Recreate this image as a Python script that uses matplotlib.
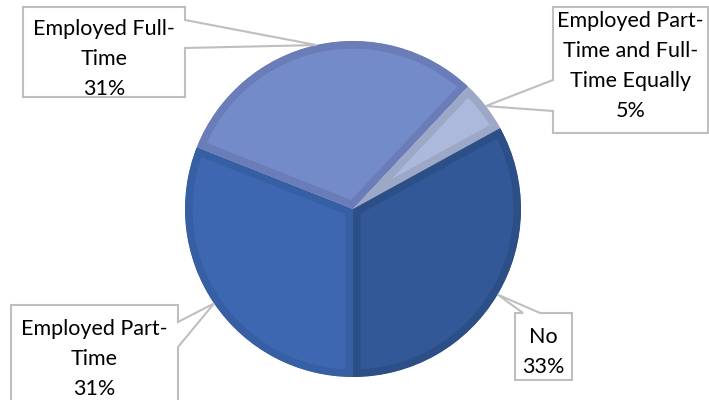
import numpy as np
import matplotlib
matplotlib.use("Agg")
import matplotlib.pyplot as plt
from matplotlib.patches import Polygon

# slices, clockwise from the bottom of the pie
labels = ["Employed Part-\nTime", "Employed Full-\nTime",
          "Employed Part-\nTime and Full-\nTime Equally", "No"]
shares = [31, 31, 5, 33]

fills = ["#3D68B1", "#748BC9", "#ADB9DC", "#335897"]
edges = ["#365FA4", "#6A7DB8", "#9DA7C6", "#2D4F88"]

W, H = 709, 400
fig = plt.figure(figsize=(W / 100, H / 100), dpi=100)
ax = fig.add_axes([0, 0, 1, 1])

cx, cy, R = 353, H - 209, 168

wedges, _ = ax.pie(shares, startangle=270, counterclock=False,
                   center=(cx, cy), radius=R, colors=fills,
                   wedgeprops=dict(linewidth=11))
for w, ec in zip(wedges, edges):
    w.set_edgecolor(ec)
    w.set_joinstyle("round")
    w.set_clip_on(True)
    w.set_clip_path(w)

ax.set_xlim(0, W)
ax.set_ylim(0, H)
ax.set_aspect("equal")
ax.axis("off")


def tip_of(w):
    a = np.deg2rad((w.theta1 + w.theta2) / 2)
    return cx + R * np.cos(a), cy + R * np.sin(a)


def callout(box, side, notch, tip, text, ty):
    # box in pixel coords (left, top, right, bottom), y measured from top
    l, t, r, b = box
    tx, tyy = tip
    if side == "right":
        pts = [(l, t), (r, t), (r, notch[0]), None, (r, notch[1]), (r, b), (l, b)]
    elif side == "left":
        pts = [(l, t), (r, t), (r, b), (l, b), (l, notch[1]), None, (l, notch[0])]
    else:  # top
        pts = [(l, t), (notch[0], t), None, (notch[1], t), (r, t), (r, b), (l, b)]
    verts = []
    for p in pts:
        if p is None:
            verts.append((tx, tyy))
        else:
            verts.append((p[0], H - p[1]))
    ax.add_patch(Polygon(verts, closed=True, facecolor="white",
                         edgecolor="#BFBFBF", linewidth=1.5, zorder=5,
                         clip_on=False))
    ax.text((l + r) / 2, H - ty, text, ha="center", va="center",
            fontsize=15.5, family="Lato", linespacing=1.62, color="black",
            zorder=6)


pct = [f"{s}%" for s in shares]

callout((11, 305, 178, 410), "right", (322, 347), tip_of(wedges[0]),
        labels[0] + "\n" + pct[0], 359)
callout((23, 7, 185, 97), "right", (20, 48), tip_of(wedges[1]),
        labels[1] + "\n" + pct[1], 59)
callout((553, 7, 708, 133), "left", (80, 111), tip_of(wedges[2]),
        labels[2] + "\n" + pct[2], 66)
callout((515, 313, 572, 380), "top", (523, 540), tip_of(wedges[3]),
        labels[3] + "\n" + pct[3], 352)

fig.savefig("out.png", dpi=100)
